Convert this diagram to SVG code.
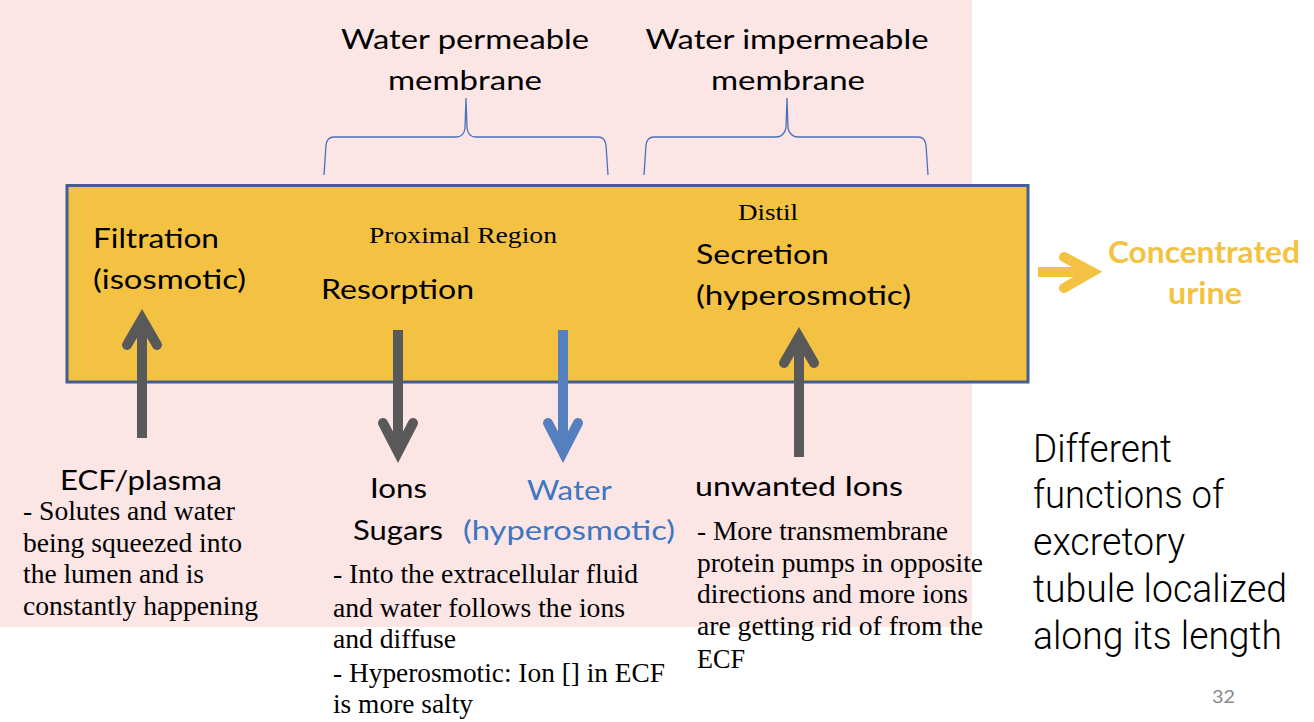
<svg xmlns="http://www.w3.org/2000/svg" width="1314" height="722" viewBox="0 0 1314 722">
<style>
.sans{font-family:Lato,"Liberation Sans",Arial,sans-serif;font-size:26px;fill:#000}
.serif{font-family:"Liberation Serif","Times New Roman",serif;font-size:27px;fill:#000}
.small{font-size:23px}
.blue{fill:#3d76c3}
.yel{fill:#f4c242;font-weight:bold;font-size:30px}
.light{font-family:Roboto,"Liberation Sans",Arial,sans-serif;font-weight:300;font-size:38px;fill:#000}
.brace{fill:none;stroke:#4a72b8;stroke-width:1.3}
.gray{stroke:#595959;stroke-width:10;fill:none}
.bl{stroke:#5580bd;stroke-width:10;fill:none}
.head{stroke-linecap:round;stroke-linejoin:miter;stroke-miterlimit:10}
</style>
<rect x="0" y="0" width="1314" height="722" fill="#ffffff"/>
<rect x="0" y="0" width="972" height="627" fill="#fbe5e5"/>

<g id="labels-top">
<text class="sans" x="465" y="49" text-anchor="middle" textLength="248" lengthAdjust="spacingAndGlyphs">Water permeable</text>
<text class="sans" x="465" y="90" text-anchor="middle" textLength="154" lengthAdjust="spacingAndGlyphs">membrane</text>
<text class="sans" x="787" y="49" text-anchor="middle" textLength="283" lengthAdjust="spacingAndGlyphs">Water impermeable</text>
<text class="sans" x="788" y="90" text-anchor="middle" textLength="154" lengthAdjust="spacingAndGlyphs">membrane</text>
</g>

<g id="braces">
<path class="brace" d="M324,175 L326,145 Q327,137 334,137 L456,137 Q464,137 465,128 L466,98 L467,128 Q468,137 476,137 L598,137 Q605,137 606,145 L608,175"/>
<path class="brace" d="M644,175 L646,145 Q647,137 654,137 L776,137 Q784,137 786,128 L787,98 L788,128 Q790,137 798,137 L918,137 Q925,137 926,145 L928,175"/>
</g>

<g id="tubule">
<rect x="67" y="185.5" width="961" height="196.5" fill="#f4c242" stroke="#41608e" stroke-width="3"/>
<text class="sans" x="93" y="248" textLength="126" lengthAdjust="spacingAndGlyphs">Filtration</text>
<text class="sans" x="93" y="289" textLength="153" lengthAdjust="spacingAndGlyphs">(isosmotic)</text>
<text class="serif small" x="369" y="243" textLength="188" lengthAdjust="spacingAndGlyphs">Proximal Region</text>
<text class="sans" x="321" y="299" textLength="153" lengthAdjust="spacingAndGlyphs">Resorption</text>
<text class="serif small" x="738" y="220" textLength="60" lengthAdjust="spacingAndGlyphs">Distil</text>
<text class="sans" x="696" y="264" textLength="133" lengthAdjust="spacingAndGlyphs">Secretion</text>
<text class="sans" x="696" y="305" textLength="215" lengthAdjust="spacingAndGlyphs">(hyperosmotic)</text>
</g>

<g id="connectors">
<line class="gray" x1="142" y1="438" x2="142" y2="318"/>
<polyline class="gray head" points="127,345 142,319 157,345"/>
<line class="gray" x1="398" y1="330" x2="398" y2="450"/>
<polyline class="gray head" points="383,423 398,452 413,423"/>
<line class="bl" x1="563" y1="330" x2="563" y2="450"/>
<polyline class="bl head" points="548,423 563,452 578,423"/>
<line class="gray" x1="799" y1="457" x2="799" y2="338"/>
<polyline class="gray head" points="784,363 799,337 814,363"/>
<line stroke="#f4c242" stroke-width="10" x1="1038" y1="272" x2="1090" y2="272"/>
<polyline class="head" fill="none" stroke="#f4c242" stroke-width="10" points="1064,257 1092,272 1064,288"/>
</g>

<g id="urine">
<text class="sans yel" x="1204" y="263" text-anchor="middle" textLength="192" lengthAdjust="spacingAndGlyphs">Concentrated</text>
<text class="sans yel" x="1205" y="304" text-anchor="middle" textLength="74" lengthAdjust="spacingAndGlyphs">urine</text>
</g>

<g id="ecf">
<text class="sans" x="60" y="490" textLength="162" lengthAdjust="spacingAndGlyphs">ECF/plasma</text>
<text class="serif" x="23" y="520" textLength="212" lengthAdjust="spacingAndGlyphs">- Solutes and water</text>
<text class="serif" x="23" y="552" textLength="219" lengthAdjust="spacingAndGlyphs">being squeezed into</text>
<text class="serif" x="23" y="583" textLength="181" lengthAdjust="spacingAndGlyphs">the lumen and is</text>
<text class="serif" x="23" y="615" textLength="235" lengthAdjust="spacingAndGlyphs">constantly happening</text>
</g>

<g id="ions-sugars">
<text class="sans" x="370" y="498" textLength="57" lengthAdjust="spacingAndGlyphs">Ions</text>
<text class="sans" x="353" y="540" textLength="90" lengthAdjust="spacingAndGlyphs">Sugars</text>
<text class="serif" x="333" y="583" textLength="305" lengthAdjust="spacingAndGlyphs">- Into the extracellular fluid</text>
<text class="serif" x="333" y="617" textLength="292" lengthAdjust="spacingAndGlyphs">and water follows the ions</text>
<text class="serif" x="333" y="648" textLength="123" lengthAdjust="spacingAndGlyphs">and diffuse</text>
<text class="serif" x="333" y="682" textLength="332" lengthAdjust="spacingAndGlyphs">- Hyperosmotic: Ion [] in ECF</text>
<text class="serif" x="333" y="713" textLength="140" lengthAdjust="spacingAndGlyphs">is more salty</text>
</g>

<g id="water">
<text class="sans blue" x="527" y="500" textLength="85" lengthAdjust="spacingAndGlyphs">Water</text>
<text class="sans blue" x="463" y="540" textLength="212" lengthAdjust="spacingAndGlyphs">(hyperosmotic)</text>
</g>

<g id="unwanted">
<text class="sans" x="695" y="496" textLength="208" lengthAdjust="spacingAndGlyphs">unwanted Ions</text>
<text class="serif" x="697" y="540" textLength="251" lengthAdjust="spacingAndGlyphs">- More transmembrane</text>
<text class="serif" x="697" y="572" textLength="286" lengthAdjust="spacingAndGlyphs">protein pumps in opposite</text>
<text class="serif" x="697" y="603" textLength="271" lengthAdjust="spacingAndGlyphs">directions and more ions</text>
<text class="serif" x="697" y="635" textLength="286" lengthAdjust="spacingAndGlyphs">are getting rid of from the</text>
<text class="serif" x="697" y="668" textLength="48" lengthAdjust="spacingAndGlyphs">ECF</text>
</g>

<g id="caption">
<text class="light" x="1033" y="462" textLength="139" lengthAdjust="spacingAndGlyphs">Different</text>
<text class="light" x="1033" y="508" textLength="191" lengthAdjust="spacingAndGlyphs">functions of</text>
<text class="light" x="1033" y="555" textLength="152" lengthAdjust="spacingAndGlyphs">excretory</text>
<text class="light" x="1033" y="602" textLength="254" lengthAdjust="spacingAndGlyphs">tubule localized</text>
<text class="light" x="1033" y="649" textLength="249" lengthAdjust="spacingAndGlyphs">along its length</text>
<text x="1212" y="703" font-family="Lato,'Liberation Sans',sans-serif" font-size="18" fill="#898989" textLength="23" lengthAdjust="spacingAndGlyphs">32</text>
</g>
</svg>
